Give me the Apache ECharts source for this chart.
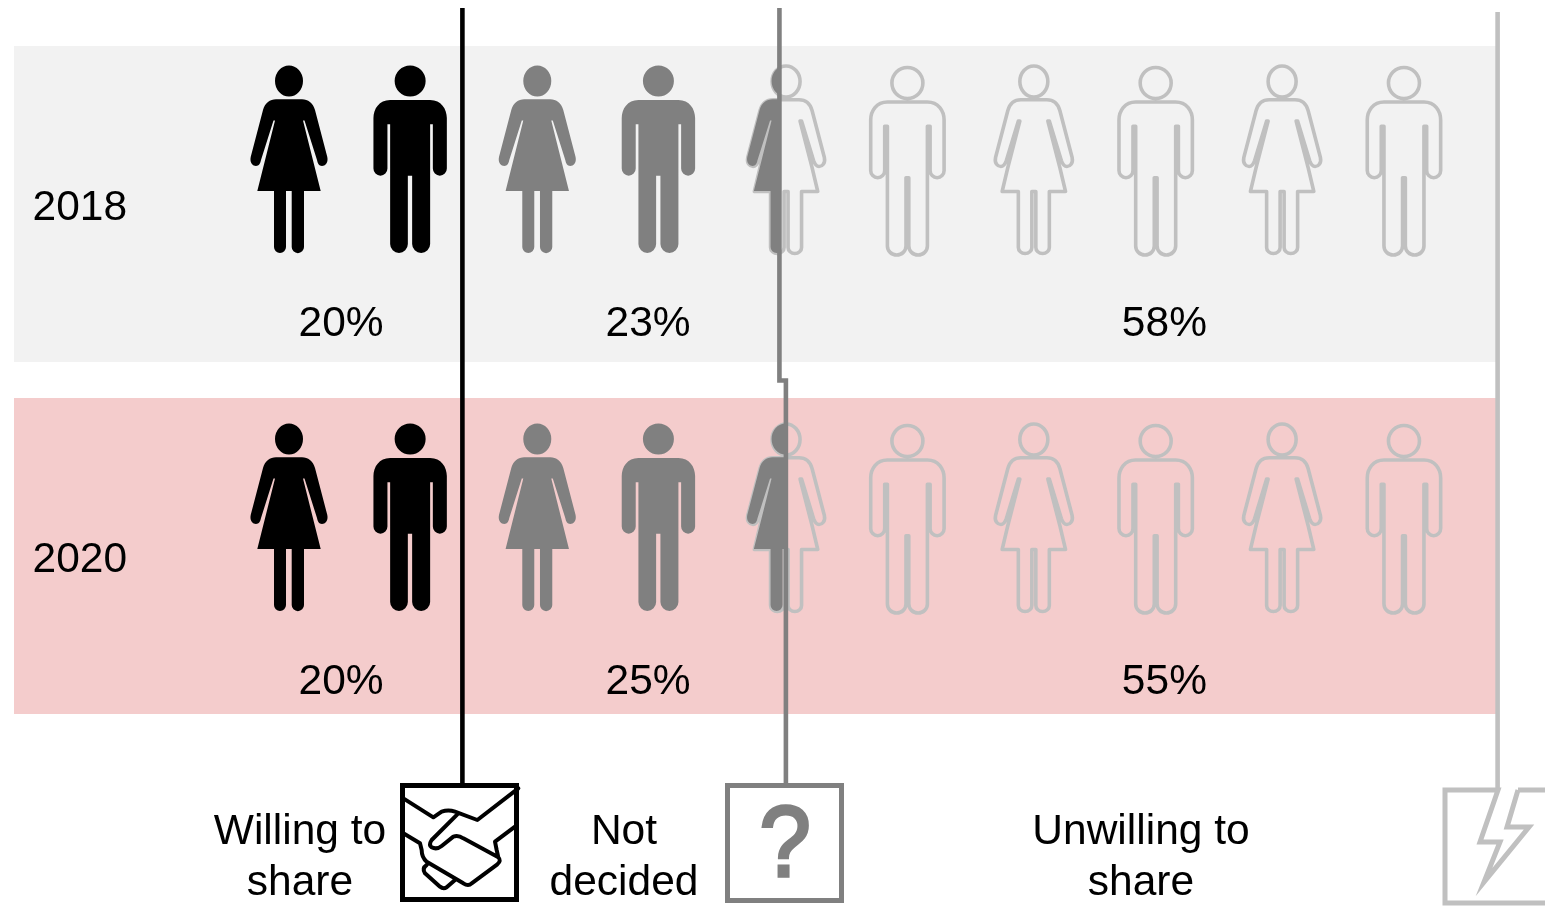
<!DOCTYPE html>
<html>
<head>
<meta charset="utf-8">
<title>Willingness to share</title>
<script src="https://cdn.jsdelivr.net/npm/echarts@6/dist/echarts.min.js"></script>
<style>html,body{margin:0;padding:0;background:#fff}#chart{width:1545px;height:906px}</style>
</head>
<body>
<div id="chart"></div>
<script>
// ---- data ----
const years = ['2018', '2020'];
const willingShare = [20, 20];
const undecidedShare = [23, 25];
const unwillingShare = [58, 55];
const willingEdge = [20, 20];       // divider position on the share axis
const undecidedEdge = [44.5, 45];   // divider position on the share axis
const totalEdge = [100, 100];
const people = ['woman', 'man', 'woman', 'man', 'woman', 'man', 'woman', 'man', 'woman', 'man'];
const legendNames = ['Willing to\nshare', 'Not\ndecided', 'Unwilling to\nshare'];

// ---- layout and style ----
const FONT = '"Liberation Sans", Arial, sans-serif';
const FONT_SIZE = 42.5;
const BLACK = '#000000', GREY = '#808080', LIGHT = '#c0c0c0';
const bandColors = ['#f2f2f2', '#f4cccc'];
const shareMin = -14.652;
const bandHeight = 316;
const iconOffsetY = [-44, -38];
const labelOffsetY = [120.5, 126.5];
const shareLabelAt = [10.62, 34.35, 74.25];
const iconNudgeX = { woman: 0, man: -3 };
const outlineNudgeX = { woman: 0, man: 0.7 };
const outlineNudgeY = { woman: 0.5, man: 2 };
const dividerColors = [BLACK, GREY, LIGHT];
const dividerTop = [8, 8, 12];
const dividerBottom = [783, 783, 790];
const stepY = 380.5;
const legendTextX = [300, 624, 1141];

const womanHead = 'M-14,-79 A14,15.5 0 1 1 14,-79 A14,15.5 0 1 1 -14,-79 Z ';
const womanPath = womanHead +
  'M-13,-60.7 C-19,-60.7 -24,-57 -26,-50 L-38.3,-3 C-39.5,3 -36,6 -33,6 C-30,6 -28.5,3 -28,0 ' +
  'L-15.5,-39.5 L-14,-39.5 L-31.7,31 L-15,31 L-15,87 A6,6 0 0 0 -3,87 L-3,31 L2.7,31 L2.7,87 A6,6 0 0 0 15,87 L15,31 ' +
  'L31.7,31 L14,-39.5 L15.5,-39.5 L28,0 C28.5,3 30,6 33,6 C36,6 39.5,3 38.3,-3 L26,-50 C24,-57 19,-60.7 13,-60.7 Z';
const womanOutlinePath = womanHead +
  'M-13,-60.7 C-19,-60.7 -24,-57 -26,-50 L-38.3,-3 C-39.5,3 -36,6 -33,6 C-30,6 -28.5,3 -27.5,0 ' +
  'L-15.5,-39.5 L-14,-39.5 L-26,7 L-31.7,31 L-15.5,31 L-15.5,87 A6.75,6 0 0 0 -2,87 L-2,31 L2,31 L2,87 A6.75,6 0 0 0 15.5,87 L15.5,31 ' +
  'L31.7,31 L26,7 L14,-39.5 L15.5,-39.5 L27.5,0 C28.5,3 30,6 33,6 C36,6 39.5,3 38.3,-3 L26,-50 C24,-57 19,-60.7 13,-60.7 Z';
const manHead = 'M-15.5,-79 A15.5,15.5 0 1 1 15.5,-79 A15.5,15.5 0 1 1 -15.5,-79 Z ';
const manPath = manHead +
  'M-20,-60 C-31,-60 -36.7,-51 -36.7,-42 L-36.7,8.5 A7,7.2 0 0 0 -22.7,8.5 L-22.7,-35.7 L-20,-35.7 L-20,84 ' +
  'A8.85,9 0 0 0 -2.3,84 L-2.3,15.7 L2,15.7 L2,84 A9,9 0 0 0 20,84 L20,-35.7 L22.7,-35.7 L22.7,8.5 A7,7.2 0 0 0 36.7,8.5 ' +
  'L36.7,-42 C36.7,-51 31,-60 20,-60 Z';
const manOutlinePath = manHead +
  'M-20,-60 C-31,-60 -36.7,-51 -36.7,-42 L-36.7,8.5 A7,7.2 0 0 0 -22.7,8.5 L-22.7,-35.7 L-20,-35.7 L-20,84 ' +
  'A9.25,9 0 0 0 -1.4,84 L-1.4,15.7 L1.4,15.7 L1.4,84 A9.25,9 0 0 0 20,84 L20,-35.7 L22.7,-35.7 L22.7,8.5 A7,7.2 0 0 0 36.7,8.5 ' +
  'L36.7,-42 C36.7,-51 31,-60 20,-60 Z';
const iconPaths = { woman: womanPath, man: manPath };
const outlinePaths = { woman: womanOutlinePath, man: manOutlinePath };

const handshakePath =
  'M40,85 L130,142 L155,125 Q175,118 195,125 L262,150 L385,55 ' +
  'M205,130 L125,210 Q115,225 125,232 Q140,240 155,228 L190,200 Q205,195 220,205 L325,262 Q335,272 322,283 ' +
  'L245,340 Q235,350 220,340 L110,275 Q95,262 95,240 L90,220 L40,190 ' +
  'M375,170 L315,215 L320,240 L325,262 ' +
  'M110,285 Q95,295 105,310 L150,350 Q160,358 170,352 L195,330';
const boltBoxPath =
  'M1518,790 H1570 V903 H1445 V790 H1498 L1480,842 H1500 L1484,882 L1529,827 H1507 L1518,790';

function bandItem(params, api) {
  const r = api.value(1);
  const c = api.coord([shareMin, r]);
  const end = api.coord([totalEdge[r], r]);
  return {
    type: 'rect',
    shape: { x: c[0], y: c[1] - bandHeight / 2, width: end[0] - c[0], height: bandHeight },
    style: { fill: bandColors[r] }
  };
}

let shareToPx = v => v;
function personItem(params, api) {
  const i = api.value(0), r = api.value(1);
  const kind = people[i];
  const p = api.coord([i, r]);
  const cx = p[0] + iconNudgeX[kind];
  const cy = p[1] + iconOffsetY[r];
  const left = cx - 42, right = cx + 42;
  const e1 = shareToPx(willingEdge[r]), e2 = shareToPx(undecidedEdge[r]);
  const fill = color => ({
    type: 'path', x: cx, y: cy, shape: { pathData: iconPaths[kind] },
    style: { fill: color, stroke: null }
  });
  const outline = {
    type: 'path', x: cx + outlineNudgeX[kind] + (e2 > left ? 0.5 : 0), y: cy + outlineNudgeY[kind], shape: { pathData: outlinePaths[kind] },
    style: { fill: 'none', stroke: LIGHT, lineWidth: 3.6, lineJoin: 'round', lineCap: 'round' }
  };
  if (right <= e1) return fill(BLACK);
  if (right <= e2) return fill(GREY);
  if (left >= e2) return outline;
  const part = fill(GREY);
  part.clipPath = { type: 'rect', shape: { x: -60, y: -110, width: 60 + e2 - cx, height: 220 } };
  return { type: 'group', children: [outline, part] };
}

function shareLabelItem(params, api) {
  const g = api.value(0), r = api.value(1);
  const p = api.coord([shareLabelAt[g], r]);
  const vals = [willingShare, undecidedShare, unwillingShare][g];
  return {
    type: 'text',
    style: {
      text: vals[r] + '%', x: p[0], y: p[1] + labelOffsetY[r],
      fontSize: FONT_SIZE, fontFamily: FONT, fill: BLACK, align: 'center', verticalAlign: 'middle'
    }
  };
}

function dividerItem(params, api) {
  const g = api.value(0);
  const edge = [willingEdge, undecidedEdge, totalEdge][g];
  const a = api.coord([edge[0], 0])[0], b = api.coord([edge[1], 1])[0];
  return {
    type: 'polyline',
    shape: { points: [[a, dividerTop[g]], [a, stepY], [b, stepY], [b, dividerBottom[g]]] },
    style: { fill: 'none', stroke: dividerColors[g], lineWidth: 4.6, lineJoin: 'miter' }
  };
}

function legendItem(params, api) {
  const g = api.value(0);
  const children = [{
    type: 'text',
    style: {
      text: legendNames[g], x: legendTextX[g], y: 857.5, fontSize: FONT_SIZE, fontFamily: FONT,
      fill: BLACK, align: 'center', verticalAlign: 'middle', lineHeight: 51
    }
  }];
  if (g === 0) {
    children.push(
      { type: 'rect', shape: { x: 402.5, y: 785.5, width: 114, height: 114 }, style: { fill: '#fff', stroke: BLACK, lineWidth: 5 } },
      { type: 'path', x: 390, y: 770, scaleX: 1 / 3, scaleY: 1 / 3, shape: { pathData: handshakePath },
        style: { fill: 'none', stroke: BLACK, lineWidth: 12, lineJoin: 'round', lineCap: 'round' } }
    );
  } else if (g === 1) {
    children.push(
      { type: 'rect', shape: { x: 727.5, y: 785.5, width: 114, height: 115 }, style: { fill: '#fff', stroke: GREY, lineWidth: 5 } },
      { type: 'text', x: 785, y: 848, scaleX: 0.92, style: { text: '?', x: 0, y: 0, fontSize: 100, fontFamily: FONT, fill: GREY, stroke: GREY, lineWidth: 3.5, align: 'center', verticalAlign: 'middle' } }
    );
  } else {
    children.push({ type: 'path', shape: { pathData: boltBoxPath },
      style: { fill: 'none', stroke: LIGHT, lineWidth: 5, lineJoin: 'miter', miterLimit: 10 } });
  }
  return { type: 'group', children };
}

const rowIdx = years.map((_, r) => r);
const option = {
  animation: false,
  backgroundColor: '#ffffff',
  grid: [
    { left: 14, top: 28, width: 1483.6, height: 704, containLabel: false },
    { left: 226.93, top: 28, width: 1241.4, height: 704, containLabel: false },
    { left: 14, top: 32, width: 1483.6, height: 704, containLabel: false }
  ],
  xAxis: [
    { type: 'value', gridIndex: 0, min: shareMin, max: 100, show: false, splitLine: { show: false } },
    { type: 'category', gridIndex: 1, data: people.map((k, i) => k + (i + 1)), show: false },
    { type: 'value', gridIndex: 2, min: shareMin, max: 100, show: false, splitLine: { show: false } }
  ],
  yAxis: [
    { type: 'category', gridIndex: 0, data: years, inverse: true, show: false },
    { type: 'category', gridIndex: 1, data: years, inverse: true, show: false },
    { type: 'category', gridIndex: 2, data: years, inverse: true, position: 'left', z: 5,
      axisLine: { show: false }, axisTick: { show: false }, splitLine: { show: false },
      axisLabel: { inside: true, margin: 18.5, fontSize: FONT_SIZE, fontFamily: FONT, color: BLACK, align: 'left' } }
  ],
  series: [
    { type: 'custom', name: 'bands', xAxisIndex: 0, yAxisIndex: 0, z: 1, silent: true, clip: false,
      data: rowIdx.map(r => [100, r]), renderItem: bandItem },
    { type: 'custom', name: 'people', xAxisIndex: 1, yAxisIndex: 1, z: 2, silent: true, clip: false,
      data: rowIdx.flatMap(r => people.map((_, i) => [i, r])), renderItem: personItem },
    { type: 'custom', name: 'shares', xAxisIndex: 0, yAxisIndex: 0, z: 3, silent: true, clip: false,
      data: rowIdx.flatMap(r => [0, 1, 2].map(g => [g, r])), renderItem: shareLabelItem },
    { type: 'custom', name: 'legend', coordinateSystem: 'none', z: 4, silent: true,
      data: legendNames.map((_, g) => [g]), renderItem: legendItem },
    { type: 'custom', name: 'dividers', xAxisIndex: 0, yAxisIndex: 0, z: 6, silent: true, clip: false,
      data: [[0, 0], [1, 0], [2, 0]], renderItem: dividerItem }
  ]
};
const chart = echarts.init(document.getElementById('chart'), null, { renderer: 'canvas', width: 1545, height: 906 });
const gridW = 1483.6, shareSpan = 100 - shareMin;
shareToPx = v => 14 + (v - shareMin) / shareSpan * gridW;
chart.setOption(option);
</script>
</body>
</html>
